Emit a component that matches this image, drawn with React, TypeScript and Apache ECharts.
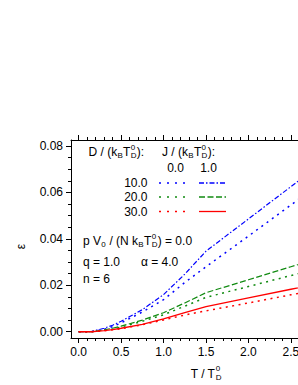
import React, { useEffect, useRef } from "react";
import * as echarts from "echarts";

// ---------------- data ----------------
const T_VALUES = [0, 0.15, 0.3, 0.4, 0.5, 0.75, 1.0, 1.25, 1.5, 2.0, 2.5, 3.0];
const EPS_D10_J0 = [0, 0, 0.001, 0.0022, 0.0038, 0.0085, 0.0138, 0.0212, 0.028, 0.0412, 0.0546, 0.068];
const EPS_D10_J1 = [0, 0.0001, 0.0015, 0.0028, 0.0045, 0.0095, 0.016, 0.0248, 0.0347, 0.0486, 0.0625, 0.0763];
const EPS_D20_J0 = [0, 0, 0.0006, 0.0012, 0.002, 0.0045, 0.0073, 0.011, 0.0148, 0.0195, 0.0242, 0.0289];
const EPS_D20_J1 = [0, 0, 0.0008, 0.0015, 0.0024, 0.005, 0.0082, 0.0124, 0.0168, 0.0224, 0.028, 0.0336];
const EPS_D30_J0 = [0, 0, 0.0004, 0.0008, 0.0013, 0.003, 0.0051, 0.0072, 0.009, 0.0124, 0.0159, 0.0193];
const EPS_D30_J1 = [0, 0, 0.0005, 0.0009, 0.0015, 0.0032, 0.0055, 0.0082, 0.0108, 0.0146, 0.0183, 0.022];

const X_TICKS = [0, 0.5, 1.0, 1.5, 2.0, 2.5, 3.0];
const Y_TICKS = [0, 0.02, 0.04, 0.06, 0.08];
const D_LABELS = ["10.0", "20.0", "30.0"];
const J_LABELS = ["0.0", "1.0"];
const PARAM_LABELS = ["q = 1.0", "\u03b1 = 4.0", "n = 6"];

// ---------------- styling ----------------
const FONT = "'Liberation Sans', Arial, Helvetica, sans-serif";
const BLUE = "#0000ff";
const GREEN = "#108a10";
const RED = "#ff0000";
const DOT = [2, 4.5];
const DOT_LEGEND = [2, 6];
const DASH = [6, 2.5];
const DASHDOT = [5, 2, 1.5, 2];

const X_MIN = -0.09;
const X_MAX = 3.09;
const Y_MIN = -0.0027;
const Y_MAX = 0.0826;

const X_MINOR: number[] = [];
for (let i = 1; i <= 30; i++) if (i % 5 !== 0) X_MINOR.push(+(i * 0.1).toFixed(2));
const Y_MINOR: number[] = [];
for (let i = 1; i <= 16; i++) if (i % 4 !== 0) Y_MINOR.push(+(i * 0.005).toFixed(4));

let measureCtx: CanvasRenderingContext2D | null = null;
function textWidth(s: string, size: number): number {
  if (!measureCtx) measureCtx = document.createElement("canvas").getContext("2d");
  if (!measureCtx) return s.length * size * 0.55;
  measureCtx.font = `${size}px ${FONT}`;
  return measureCtx.measureText(s).width;
}

function txt(x: number, y: number, s: string, size: number, align = "left", extra: any = {}) {
  return {
    type: "text",
    x,
    y,
    silent: true,
    ...extra,
    style: {
      text: s,
      fontSize: size,
      fontFamily: FONT,
      fill: "#000",
      align,
      verticalAlign: "middle",
      textAlign: align,
      textVerticalAlign: "middle",
    },
  };
}

type Piece = string | { sub: string } | { sup: string } | { both: [string, string] };
const MAIN = 12;
const SMALL = 8;
function compose(x: number, y: number, pieces: Piece[]) {
  const out: any[] = [];
  let cx = x;
  for (const p of pieces) {
    if (typeof p === "string") {
      out.push(txt(cx, y, p, MAIN));
      cx += textWidth(p, MAIN);
    } else if ("sub" in p) {
      out.push(txt(cx + 0.3, y + 3.5, p.sub, SMALL));
      cx += textWidth(p.sub, SMALL) + 0.6;
    } else if ("sup" in p) {
      out.push(txt(cx + 0.3, y - 5, p.sup, SMALL));
      cx += textWidth(p.sup, SMALL) + 0.6;
    } else {
      const [sp, sb] = p.both;
      out.push(txt(cx + 0.3, y - 5, sp, SMALL));
      out.push(txt(cx + 0.3, y + 3.5, sb, SMALL));
      cx += Math.max(textWidth(sp, SMALL), textWidth(sb, SMALL)) + 0.6;
    }
  }
  return out;
}

function sample(x1: number, x2: number, y: number, color: string, dash: number[] | null, width = 1.3) {
  return {
    type: "line",
    silent: true,
    shape: { x1, y1: y, x2, y2: y },
    style: { stroke: color, lineWidth: width, lineDash: dash || undefined },
  };
}

function lineSeries(name: string, vals: number[], color: string, dash: number[] | null, width = 1.3) {
  return {
    name,
    type: "line",
    xAxisIndex: 0,
    yAxisIndex: 0,
    showSymbol: false,
    symbol: "none",
    data: T_VALUES.map((t, i) => [t, vals[i]]),
    lineStyle: { color, width, type: dash ? dash : "solid" },
    emphasis: { disabled: true },
  };
}

function xAxisBase(position: string, ticks: number[], len: number, showLine: boolean, showLabel: boolean) {
  return {
    type: "value",
    gridIndex: 0,
    position,
    min: X_MIN,
    max: X_MAX,
    splitLine: { show: false },
    axisLine: { show: showLine, onZero: false, lineStyle: { color: "#000", width: 1 } },
    axisTick: { show: true, inside: false, length: len, customValues: ticks, lineStyle: { color: "#000", width: 1 } },
    axisLabel: showLabel
      ? {
          show: true,
          customValues: ticks,
          formatter: (v: number) => v.toFixed(1),
          fontSize: 12,
          fontFamily: FONT,
          color: "#000",
          margin: 8,
        }
      : { show: false },
  };
}

function yAxisBase(ticks: number[], len: number, showLine: boolean, showLabel: boolean) {
  return {
    type: "value",
    gridIndex: 0,
    position: "left",
    min: Y_MIN,
    max: Y_MAX,
    splitLine: { show: false },
    axisLine: { show: showLine, onZero: false, lineStyle: { color: "#000", width: 1 } },
    axisTick: { show: true, inside: false, length: len, customValues: ticks, lineStyle: { color: "#000", width: 1 } },
    axisLabel: showLabel
      ? {
          show: true,
          customValues: ticks,
          formatter: (v: number) => v.toFixed(2),
          fontSize: 12,
          fontFamily: FONT,
          color: "#000",
          margin: 8,
        }
      : { show: false },
  };
}

export default function App() {
  const ref = useRef<HTMLDivElement>(null);
  useEffect(() => {
    if (!ref.current) return;
    const chart = echarts.init(ref.current, undefined, { renderer: "svg" });

    const rowsY = [183, 197, 211.5];
    const colors = [BLUE, GREEN, RED];
    const j1Dash = [DASHDOT, DASH, null];

    const graphics: any[] = [];
    graphics.push(...compose(88.5, 152, ["D / (k", { sub: "B" }, "T", { both: ["0", "D"] }, "):"]));
    graphics.push(...compose(162, 152, ["J / (k", { sub: "B" }, "T", { both: ["0", "D"] }, "):"]));
    graphics.push(txt(175.5, 168, J_LABELS[0], MAIN, "center"));
    graphics.push(txt(208.5, 168, J_LABELS[1], MAIN, "center"));
    D_LABELS.forEach((d, i) => {
      graphics.push(txt(147.5, rowsY[i], d, MAIN, "right"));
      graphics.push(sample(159, 186, rowsY[i], colors[i], DOT_LEGEND, 1.5));
      graphics.push(sample(199, 226, rowsY[i], colors[i], j1Dash[i], 1.3));
    });
    graphics.push(
      ...compose(83, 241, ["p V", { sub: "0" }, " / (N k", { sub: "B" }, "T", { both: ["0", "D"] }, ") = 0.0"])
    );
    graphics.push(txt(83, 262, PARAM_LABELS[0], MAIN));
    graphics.push(txt(141, 262, PARAM_LABELS[1], MAIN));
    graphics.push(txt(83, 279, PARAM_LABELS[2], MAIN));
    graphics.push(...compose(190.7, 373.5, ["T / T", { both: ["0", "D"] }]));
    graphics.push(txt(21, 246.5, "\u03b5", MAIN, "center", { rotation: Math.PI / 2 }));

    const option: any = {
      animation: false,
      backgroundColor: "#ffffff",
      grid: {
        left: 71,
        top: 140,
        width: 270,
        height: 198,
        containLabel: false,
        outerBoundsMode: "none",
      },
      xAxis: [
        xAxisBase("bottom", X_TICKS, 5, true, true),
        xAxisBase("bottom", X_MINOR, 3, false, false),
        xAxisBase("top", X_TICKS, 5, true, false),
        xAxisBase("top", X_MINOR, 3, false, false),
      ],
      yAxis: [yAxisBase(Y_TICKS, 5, true, true), yAxisBase(Y_MINOR, 3, false, false)],
      series: [
        lineSeries("D10J0", EPS_D10_J0, BLUE, DOT, 1.5),
        lineSeries("D10J1", EPS_D10_J1, BLUE, DASHDOT, 1.2),
        lineSeries("D20J0", EPS_D20_J0, GREEN, DOT, 1.5),
        lineSeries("D20J1", EPS_D20_J1, GREEN, DASH, 1.2),
        lineSeries("D30J0", EPS_D30_J0, RED, DOT, 1.5),
        lineSeries("D30J1", EPS_D30_J1, RED, null, 1.3),
      ],
      graphic: { elements: graphics },
    };
    chart.setOption(option);
    return () => chart.dispose();
  }, []);

  return (
    <div
      ref={ref}
      style={{
        position: "absolute",
        left: 0,
        top: 0,
        width: 298,
        height: 385,
        overflow: "hidden",
        background: "#fff",
      }}
    />
  );
}
